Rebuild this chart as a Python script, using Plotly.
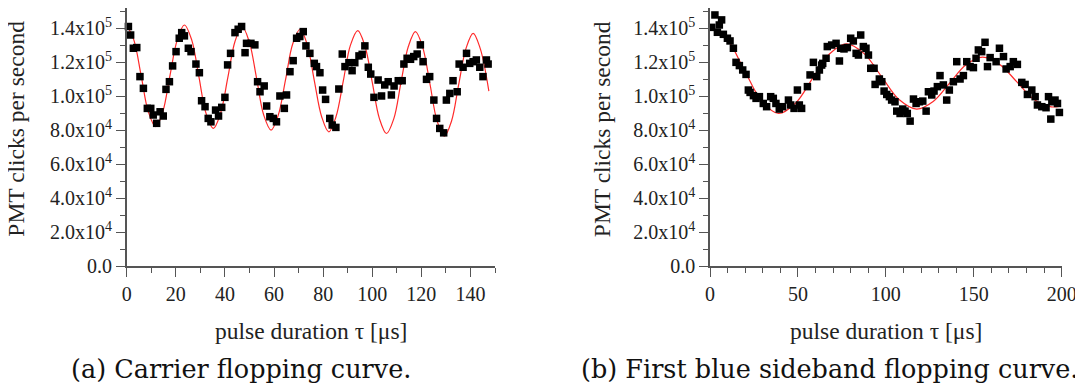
import plotly.graph_objects as go

# (a) carrier flopping: pulse duration [us] and PMT counts per second
carrier_t = [0.7, 1.6, 2.7, 4.1, 5.4, 6.8, 8.4, 9.8, 10.8, 12.2, 13.6, 14.9, 16.0, 17.4, 18.7,
             20.1, 21.4, 22.4, 23.5, 25.1, 26.2, 28.2, 29.6, 30.5, 31.9, 33.2, 34.3, 36.2, 37.4,
             38.7, 40.0, 41.1, 42.3, 44.1, 45.4, 46.8, 48.2, 48.8, 50.6, 52.2, 53.3, 54.3, 56.0,
             57.0, 58.3, 59.7, 61.0, 62.4, 64.2, 65.1, 66.5, 67.8, 69.2, 70.5, 71.9, 73.0, 74.6,
             76.4, 77.3, 78.7, 79.8, 81.0, 82.7, 83.7, 85.2, 86.4, 87.8, 88.9, 90.5, 91.8, 92.9,
             94.6, 95.9, 97.0, 98.4, 99.4, 100.7, 102.4, 103.8, 105.1, 106.5, 107.8, 108.9, 110.6,
             112.2, 112.9, 114.2, 115.6, 116.9, 118.3, 119.6, 120.7, 122.1, 123.4, 125.1, 126.2,
             127.5, 129.1, 130.2, 131.6, 132.9, 134.6, 135.4, 137.0, 138.4, 139.7, 141.1, 142.4,
             143.8, 145.1, 146.5, 147.2]
carrier_counts = [141000, 136000, 128200, 128600, 111500, 104600, 92800, 92800, 88900, 84000,
                  90800, 88300, 104000, 108500, 117800, 126200, 134100, 137400, 135500, 128200,
                  126200, 118900, 113800, 97300, 93800, 86900, 84900, 91800, 88300, 93400, 99300,
                  118400, 125200, 137400, 139400, 141000, 125600, 131100, 131100, 130200, 108500,
                  102600, 106000, 94200, 87900, 86900, 84900, 100100, 92800, 100700, 114400,
                  120900, 134100, 135100, 138000, 129600, 125200, 119300, 117400, 113800, 103600,
                  98100, 86900, 83000, 81600, 104200, 124800, 117400, 119700, 115000, 119700,
                  123700, 124600, 129600, 117000, 113000, 99300, 109500, 100100, 106600, 108500,
                  100700, 106000, 109100, 109100, 118900, 122300, 121700, 123300, 124800, 130200,
                  120300, 109900, 111500, 97700, 86900, 81000, 78400, 97700, 101600, 109100,
                  102600, 118900, 117000, 125200, 119300, 120300, 121300, 117000, 111500, 121300,
                  118900]

# fitted curve (peaks, troughs and intermediate points)
carrier_fit_t = [0, 2.9, 5.9, 8.8, 11.8, 14.7, 17.6, 20.6, 23.5, 26.5, 29.4, 32.3, 35.3, 38.2,
                 41.2, 44.1, 47.0, 49.9, 52.9, 55.8, 58.8, 61.7, 64.7, 67.6, 70.6, 73.5, 76.4,
                 79.4, 82.3, 85.2, 88.2, 91.1, 94.1, 97.0, 100.0, 102.9, 105.8, 108.8, 111.7,
                 114.7, 117.6, 120.5, 123.5, 126.4, 129.4, 132.3, 135.2, 138.2, 141.1, 144.0, 147.5]
carrier_fit = [141900, 133100, 112000, 90800, 82000, 90800, 112000, 133100, 141900, 133000,
               111500, 89900, 81000, 89800, 111000, 132200, 141000, 132100, 110500, 88900,
               80000, 88700, 109700, 130700, 139400, 130500, 109200, 87900, 79000, 87700,
               108800, 129900, 138600, 129700, 108300, 86900, 78000, 86800, 108000, 129200,
               138000, 129000, 107300, 85500, 76500, 85400, 106800, 128100, 137000, 128000,
               103000]

# (b) first blue sideband flopping
bsb_t = [1.0, 2.8, 4.2, 5.3, 6.6, 7.6, 9.9, 11.4, 13.3, 14.8, 16.7, 18.6, 20.5, 21.8, 22.8, 24.7,
         26.2, 28.1, 30.3, 32.2, 34.5, 36.0, 37.5, 39.4, 41.3, 44.6, 45.9, 47.8, 49.7, 50.8,
         52.1, 55.4, 56.9, 58.8, 60.7, 62.2, 63.5, 64.1, 66.0, 66.7, 69.2, 71.7, 73.6, 74.3,
         76.2, 78.1, 80.0, 81.5, 83.1, 84.4, 85.7, 87.2, 88.7, 90.1, 91.4, 93.3, 93.9, 96.3,
         97.7, 99.0, 100.5, 102.0, 103.3, 105.2, 106.2, 108.1, 109.6, 110.9, 112.2, 113.8,
         115.7, 117.2, 119.1, 121.0, 122.9, 124.2, 126.1, 127.4, 129.3, 130.8, 132.7, 134.6,
         136.1, 138.4, 140.3, 142.2, 144.1, 146.0, 147.9, 149.8, 151.3, 152.6, 154.5, 156.4,
         157.8, 159.3, 162.7, 164.6, 166.9, 168.4, 170.7, 172.5, 174.8, 177.3, 179.2, 180.5,
         183.0, 184.9, 186.2, 188.7, 191.1, 192.5, 193.8, 194.4, 196.2, 197.6, 198.7]
bsb_counts = [140500, 147800, 137600, 141900, 144900, 136400, 134100, 132500, 128200, 119900,
              118000, 115400, 112800, 103600, 102200, 100300, 98700, 99700, 95700, 93800, 99700,
              98700, 95700, 92400, 93800, 97700, 94800, 92800, 103600, 94800, 92800, 105600,
              112500, 119900, 111500, 115400, 118300, 119300, 122300, 129200, 130100, 131100,
              120700, 128200, 127800, 128600, 134100, 132500, 125200, 124200, 136000, 129200,
              128200, 124200, 116400, 116400, 106900, 110100, 108500, 103000, 101000, 99700,
              97700, 96700, 91200, 89800, 92400, 91200, 89800, 85300, 98300, 95700, 96700,
              97100, 91200, 102600, 100700, 103000, 105600, 112100, 106600, 97700, 103600,
              108500, 120300, 110100, 112100, 120300, 117400, 116800, 122300, 127200, 126200,
              131700, 117400, 122700, 120300, 128200, 123300, 116000, 117400, 120300, 118700,
              108100, 106900, 101000, 103600, 99700, 94800, 93800, 93200, 99700, 86500, 96700,
              97700, 95700, 90400]

bsb_fit_t = [0, 9.75, 19.5, 29.25, 39.0, 48.6, 58.25, 67.9, 77.5, 87.5, 97.5, 107.5, 117.5,
             126.9, 136.25, 145.6, 155.0, 164.75, 174.5, 184.25, 194.0, 198.5]
bsb_fit = [141000, 133500, 115400, 97300, 89800, 95800, 110300, 124800, 130800, 125200, 111600,
           98000, 92400, 96900, 107700, 118500, 123000, 118700, 108400, 98000, 93700, 94000]

y_ticks = [0, 20000, 40000, 60000, 80000, 100000, 120000, 140000]
y_ticktext = ["0.0", "2.0x10<sup>4</sup>", "4.0x10<sup>4</sup>", "6.0x10<sup>4</sup>",
              "8.0x10<sup>4</sup>", "1.0x10<sup>5</sup>", "1.2x10<sup>5</sup>", "1.4x10<sup>5</sup>"]

# the page puts the figure 8px in from the top-left corner, so work in page pixels
OFF = 8
W, H = 1083 - OFF, 389 - OFF
BOTTOM = 265.7 - OFF          # x axis line, figure pixels
Y_MAX = 151900                # value at the top of the plot area
AXIS_COLOR = "#555555"
TICK_FONT = dict(family="Liberation Serif", size=20, color="#222222")
TITLE_FONT = dict(family="Liberation Serif", size=23.5, color="#222222")
CAP_FONT = dict(family="DejaVu Serif", size=25.5, color="#111111")


def px_x(x):
    return (x - OFF) / W


def px_y(y):
    return (BOTTOM - (y - OFF)) / BOTTOM


fig = go.Figure()

for t, c, ft, fc, xa, ya in [
    (carrier_t, carrier_counts, carrier_fit_t, carrier_fit, "x", "y"),
    (bsb_t, bsb_counts, bsb_fit_t, bsb_fit, "x2", "y2"),
]:
    fig.add_trace(go.Scatter(x=ft, y=fc, mode="lines", xaxis=xa, yaxis=ya,
                             line=dict(color="#ff2a2a", width=1.2, shape="spline", smoothing=1.0),
                             showlegend=False, hoverinfo="skip"))
    fig.add_trace(go.Scatter(x=t, y=c, mode="markers", xaxis=xa, yaxis=ya,
                             marker=dict(symbol="square", size=7.5, color="black"),
                             showlegend=False, cliponaxis=False))

minor_x = dict(dtick=10, ticks="outside", ticklen=5, tickwidth=1.3, tickcolor=AXIS_COLOR)
common_x = dict(showline=True, linecolor=AXIS_COLOR, linewidth=1.5, ticks="outside",
                ticklen=9, tickwidth=1.3, tickcolor=AXIS_COLOR, tickfont=TICK_FONT,
                showgrid=False, zeroline=False, automargin=False, minor=minor_x)
common_y = dict(range=[0, Y_MAX], tickmode="array", tickvals=y_ticks, ticktext=y_ticktext,
                showline=True, linecolor=AXIS_COLOR, linewidth=1.5, ticks="outside",
                ticklen=9, tickwidth=1.3, tickcolor=AXIS_COLOR, tickfont=TICK_FONT,
                showgrid=False, zeroline=False, automargin=False,
                minor=dict(tickvals=list(range(10000, 160000, 20000)), ticks="outside",
                           ticklen=5, tickwidth=1.3, tickcolor=AXIS_COLOR))

fig.update_layout(
    width=W, height=H,
    margin=dict(l=0, r=0, t=0, b=H - BOTTOM),
    font=dict(family="Liberation Serif", color="#222222"),
    plot_bgcolor="white", paper_bgcolor="white",
    xaxis=dict(common_x, domain=[px_x(126.7), px_x(495)], range=[0, 150], dtick=20, anchor="y"),
    yaxis=dict(common_y, anchor="x"),
    xaxis2=dict(common_x, domain=[px_x(710), px_x(1061.7)], range=[0, 200], dtick=50,
                anchor="y2"),
    yaxis2=dict(common_y, anchor="x2"),
)

annotations = [
    dict(text="PMT clicks per second", x=px_x(16.5), y=px_y(129), textangle=-90, font=TITLE_FONT),
    dict(text="PMT clicks per second", x=px_x(602), y=px_y(129), textangle=-90, font=TITLE_FONT),
    dict(text="pulse duration τ [μs]", x=px_x(310.8), y=px_y(331), font=TITLE_FONT),
    dict(text="pulse duration τ [μs]", x=px_x(885.8), y=px_y(331), font=TITLE_FONT),
    dict(text="(a) Carrier flopping curve.", x=px_x(241), y=px_y(369), font=CAP_FONT),
    dict(text="(b) First blue sideband flopping curve.", x=px_x(829), y=px_y(369), font=CAP_FONT),
]
for a in annotations:
    fig.add_annotation(xref="paper", yref="paper", showarrow=False,
                       xanchor="center", yanchor="middle", **a)

fig.write_html("out.html")
